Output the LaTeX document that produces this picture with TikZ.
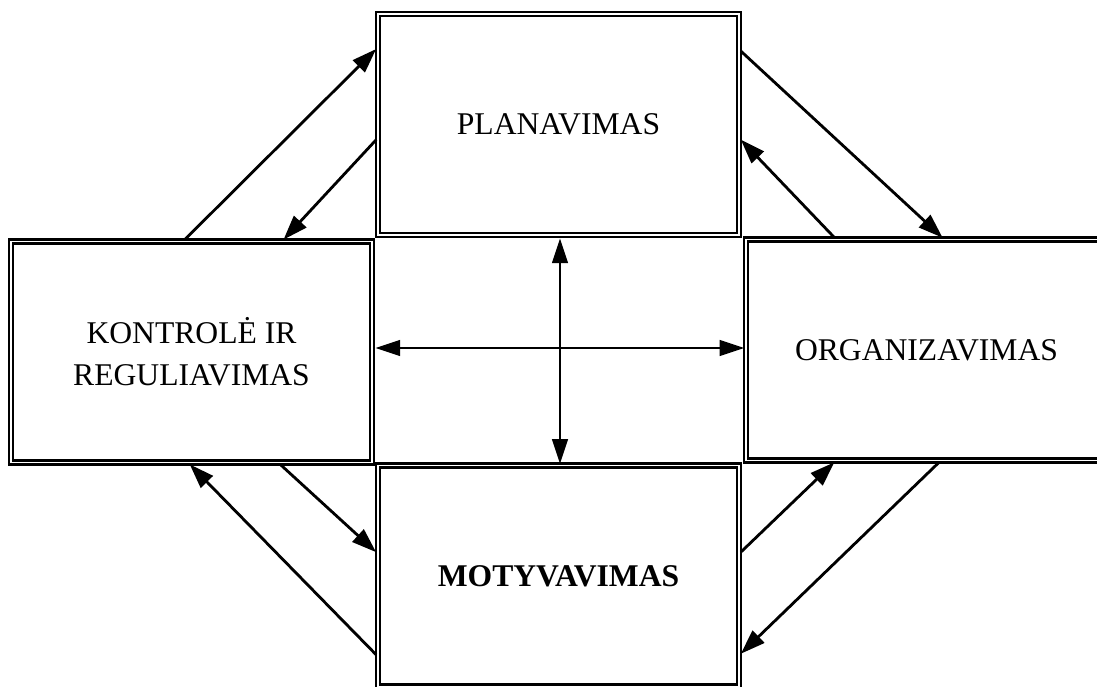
\documentclass[tikz,border=0pt]{standalone}
\usepackage{fontspec}
\setmainfont{Liberation Serif}
\usetikzlibrary{arrows.meta,calc}
\begin{document}
\begin{tikzpicture}[x=0.02cm,y=-0.02cm,
		box/.style={draw,double,line width=1.35pt,double distance=1.1pt,minimum width=7.22cm,minimum height=4.42cm,inner sep=0pt,outer sep=0pt,align=center,font=\fontsize{18}{24}\selectfont},
		arr/.style={line width=1.6pt,shorten <=1.5pt,shorten >=1.5pt,-{Triangle[length=14pt,width=9.5pt]}},
		hub/.style={line width=0.9pt,shorten <=2pt,shorten >=1pt,{Triangle[length=14pt,width=9pt]}-{Triangle[length=14pt,width=9pt]}}]
	\useasboundingbox (0,0) rectangle (1097,686);
	\clip (0,0) rectangle (1097,686);
	\node[box] (plan) at (558.5,124.5) {PLANAVIMAS};
	\node[box] (kontr) at (191.5,352) {KONTROLĖ IR\\REGULIAVIMAS};
	\node[box] (org) at (926.5,350) {ORGANIZAVIMAS};
	\node[box,font=\fontsize{18}{24}\selectfont\bfseries] (motyv) at (558.5,576) {MOTYVAVIMAS};
	\coordinate (hub) at (560,348);
	\draw[hub] (hub -| kontr.east) -- (hub -| org.west);
	\draw[hub] (hub |- plan.south) -- (hub |- motyv.north);
	% top left
	\draw[arr] ($(kontr.north west)!0.476!(kontr.north east)$) -- ($(plan.north west)!0.15!(plan.south west)$);
	\draw[arr] ($(plan.north west)!0.56!(plan.south west)$) -- ($(kontr.north west)!0.75!(kontr.north east)$);
	% top right
	\draw[arr] ($(plan.north east)!0.16!(plan.south east)$) -- ($(org.north west)!0.55!(org.north east)$);
	\draw[arr] ($(org.north west)!0.25!(org.north east)$) -- ($(plan.north east)!0.56!(plan.south east)$);
	% bottom left
	\draw[arr] ($(motyv.north west)!0.865!(motyv.south west)$) -- ($(kontr.south west)!0.49!(kontr.south east)$);
	\draw[arr] ($(kontr.south west)!0.74!(kontr.south east)$) -- ($(motyv.north west)!0.40!(motyv.south west)$);
	% bottom right
	\draw[arr] ($(motyv.north east)!0.40!(motyv.south east)$) -- ($(org.south west)!0.25!(org.south east)$);
	\draw[arr] ($(org.south west)!0.54!(org.south east)$) -- ($(motyv.north east)!0.86!(motyv.south east)$);
\end{tikzpicture}
\end{document}
